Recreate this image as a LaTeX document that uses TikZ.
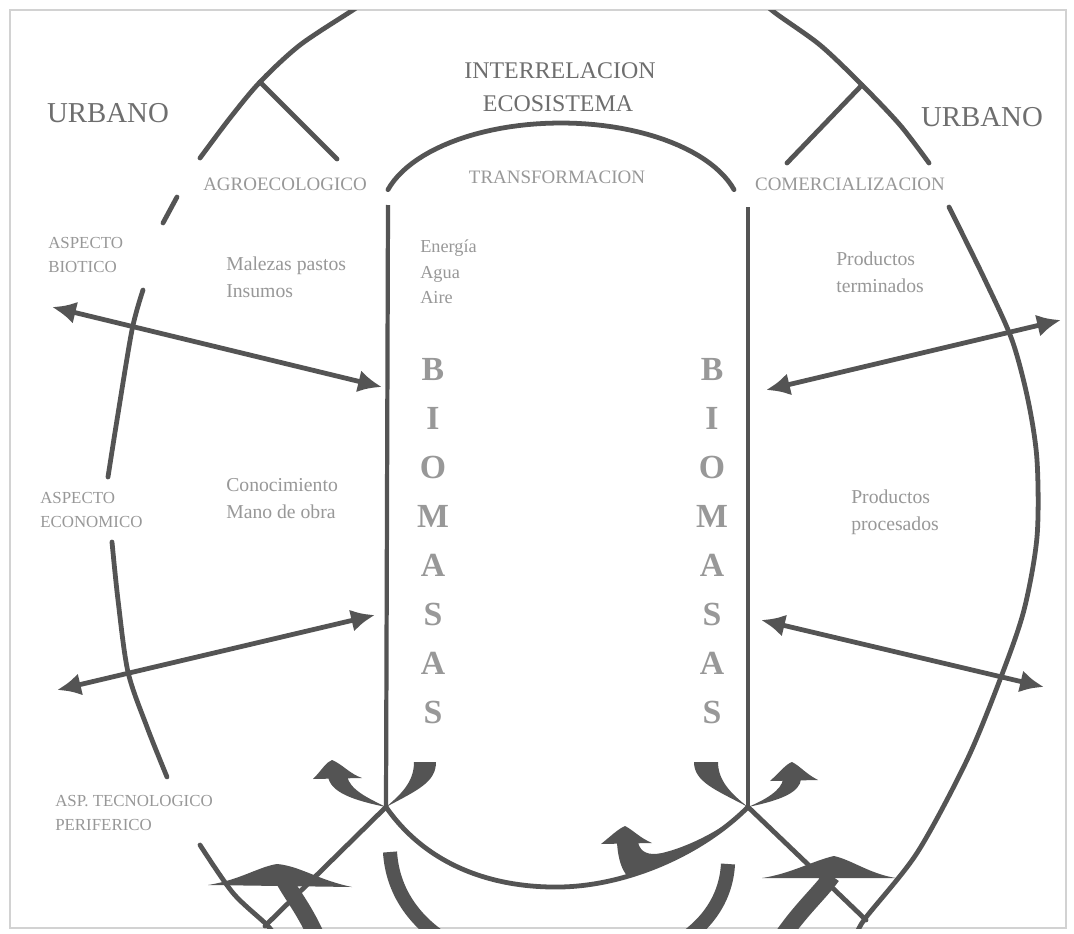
\documentclass[tikz,border=0pt]{standalone}
\usepackage{fontspec}
\setmainfont{Liberation Serif}
\usepackage{xcolor}
\usetikzlibrary{arrows.meta}

\definecolor{ink}{HTML}{545454}
\definecolor{inktext}{HTML}{6E6E6E}
\definecolor{softtext}{HTML}{989898}

\begin{document}
\begin{tikzpicture}[
    x=0.025cm, y=-0.025cm,
    arcline/.style={
        draw=ink,
        line width=3.4pt,
        line cap=round
    },
    colline/.style={
        draw=ink,
        line width=3pt
    },
    flowarrow/.style={
        {Latex[length=17pt,width=16pt]}-{Latex[length=17pt,width=16pt]},
        draw=ink,
        line width=3.4pt
    },
    band/.style={
        draw=ink,
        line width=10pt
    },
    title/.style={
        font=\fontsize{17}{20}\selectfont,
        text=inktext,
        inner sep=0pt
    },
    urban/.style={
        font=\fontsize{20.5}{24}\selectfont,
        text=inktext,
        inner sep=0pt
    },
    phase/.style={
        font=\fontsize{13.5}{16}\selectfont,
        text=softtext,
        inner sep=0pt
    },
    aspect/.style={
        font=\fontsize{12}{17}\selectfont,
        text=softtext,
        align=left,
        anchor=north west,
        inner sep=0pt
    },
    note/.style={
        font=\fontsize{14}{19}\selectfont,
        text=softtext,
        align=left,
        anchor=north west,
        inner sep=0pt
    },
    bigletter/.style={
        font=\fontsize{24}{26}\selectfont\bfseries,
        text=softtext,
        inner sep=0pt
    }
]

\useasboundingbox (0,0) rectangle (1074,934);
\fill[white] (0,0) rectangle (1074,934);

% =========================================================
% Frame
% =========================================================
\draw[gray!35, line width=1pt] (10,10) rectangle (1066,928);

\begin{scope}
\clip (10,10) rectangle (1066,928);

% =========================================================
% Outer ring (left and right pieces)
% =========================================================
\draw[arcline] plot[smooth] coordinates {(200,158) (230,118) (260,82) (300,45) (353,10) (380,-8)};
\draw[arcline] (260,82) -- (337,159);
\draw[arcline] plot[smooth] coordinates {(177,197) (170,210) (163,223)};
\draw[arcline] plot[smooth] coordinates {(143,290) (132,330) (117,420) (108,477)};
\draw[arcline] plot[smooth] coordinates {(112,542) (118,600) (128,672) (147,727) (167,777)};
\draw[arcline] plot[smooth] coordinates {(200,845) (233,893) (267,925) (278,940)};

\draw[arcline] plot[smooth] coordinates {(752,-8) (774,12) (820,45) (862,85) (900,125) (929,163)};
\draw[arcline] (862,85) -- (787,163);
\draw[arcline] plot[smooth] coordinates {(949,207) (985,280) (1012,340) (1028,400) (1037,460) (1037,537) (1024,610) (1001,677) (967,760) (917,853) (864,920) (855,940)};

% =========================================================
% Inner arch and the two columns
% =========================================================
\draw[arcline] plot[domain=164:16, samples=50] ({561+180*cos(\x)}, {215-92*sin(\x)});

\coordinate (jl) at (386,807);
\coordinate (jr) at (748,807);

\draw[colline] (388,205) -- (jl);
\draw[colline] (748,207) -- (jr);

% =========================================================
% Bottom links
% =========================================================
\draw[arcline] (jl) -- (265,926);
\draw[arcline] (jr) -- (866,920);
\draw[arcline] (jl) .. controls (430,870) and (500,888) .. (560,887)
                    .. controls (625,886) and (700,855) .. (jr);

\draw[band] (390,852) .. controls (400,1010) and (720,1010) .. (728,864);

% fat arrows at the left foot
\fill[ink] (jl) .. controls (418,790) and (436,782) .. (436,762) -- (414,762)
           .. controls (414,780) and (404,792) .. (jl) -- cycle;
\fill[ink] (jl) .. controls (352,800) and (330,792) .. (328,776) -- (347,776)
           .. controls (350,790) and (368,798) .. (jl) -- cycle;
\fill[ink] (313,779) .. controls (322,770) and (326,762) .. (332,760)
           .. controls (342,764) and (350,774) .. (362,778) -- cycle;

% fat arrows at the right foot
\fill[ink] (jr) .. controls (716,790) and (694,782) .. (694,762) -- (718,762)
           .. controls (718,780) and (730,793) .. (jr) -- cycle;
\fill[ink] (jr) .. controls (782,800) and (800,792) .. (801,779) -- (783,779)
           .. controls (782,790) and (765,800) .. (jr) -- cycle;
\fill[ink] (770,781) .. controls (780,772) and (786,764) .. (792,762)
           .. controls (800,766) and (806,774) .. (818,780) -- cycle;

% return arrow riding on the lower curve
\fill[ink] (628,877) .. controls (665,866) and (715,842) .. (jr)
           .. controls (728,826) and (692,846) .. (662,853)
           .. controls (648,856) and (640,852) .. (638,842) -- (617,842)
           .. controls (618,860) and (622,870) .. (628,877) -- cycle;
\fill[ink] (601,844) .. controls (611,836) and (618,829) .. (625,826)
           .. controls (633,830) and (640,838) .. (652,843) -- cycle;

% big arrows rising from the bottom
\draw[ink, line width=12pt] (318,940) .. controls (305,910) and (292,895) .. (284,880);
\fill[ink] (208,885) .. controls (240,880) and (258,867) .. (277,864)
           .. controls (300,866) and (318,880) .. (352,887) -- cycle;

\draw[ink, line width=12pt] (780,940) .. controls (800,910) and (820,893) .. (832,876);
\fill[ink] (762,878) .. controls (790,874) and (815,860) .. (834,856)
           .. controls (852,860) and (870,874) .. (896,878) -- cycle;

% =========================================================
% Exchange arrows
% =========================================================
\coordinate (bioticout) at (52,307);
\coordinate (bioticin) at (382,387);
\coordinate (econout) at (57,690);
\coordinate (econin) at (375,615);
\coordinate (prodin) at (766,390);
\coordinate (prodout) at (1061,320);
\coordinate (procin) at (761,620);
\coordinate (procout) at (1044,687);

\draw[flowarrow] (bioticout) -- (bioticin);
\draw[flowarrow] (econout) -- (econin);
\draw[flowarrow] (prodin) -- (prodout);
\draw[flowarrow] (procin) -- (procout);
\end{scope}

% =========================================================
% Labels
% =========================================================
\node[urban] (urbanleft) at (108,113) {URBANO};
\node[urban] (urbanright) at (982,117) {URBANO};

\node[title] (inter) at (560,71) {INTERRELACION};
\node[title] (eco) at (558,104) {ECOSISTEMA};

\node[phase] (transf) at (557,177) {TRANSFORMACION};
\node[phase] (agro) at (285,184) {AGROECOLOGICO};
\node[phase] (comer) at (850,184) {COMERCIALIZACION};

\node[aspect] (biotico) at (48,237) {ASPECTO\\BIOTICO};
\node[aspect] (economico) at (40,492) {ASPECTO\\ECONOMICO};
\node[aspect] (tecno) at (55,795) {ASP. TECNOLOGICO\\PERIFERICO};

\node[note] (malezas) at (226,257) {Malezas pastos\\Insumos};
\node[note] (conoc) at (226,478) {Conocimiento\\Mano de obra};
\node[note, font=\fontsize{13}{18}\selectfont] (energia) at (420,240) {Energía\\Agua\\Aire};
\node[note] (prodterm) at (836,252) {Productos\\terminados};
\node[note] (prodproc) at (851,490) {Productos\\procesados};

\foreach \ch [count=\i from 0] in {B,I,O,M,A,S,A,S} {
    \node[bigletter] (bioL\i) at (433,369+49*\i) {\ch};
    \node[bigletter] (bioR\i) at (712,369+49*\i) {\ch};
}

\end{tikzpicture}
\end{document}
